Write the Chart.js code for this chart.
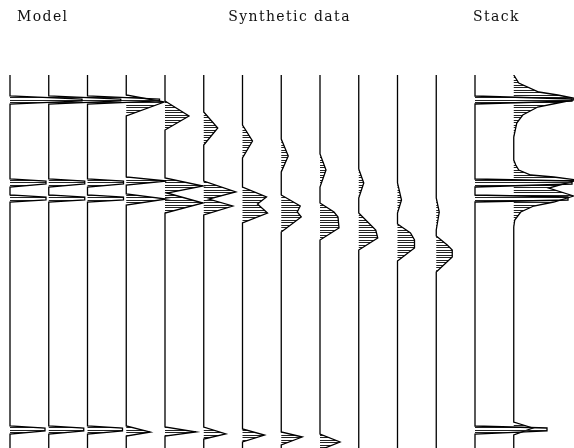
<!DOCTYPE html>
<html lang="en">

<head>
    <meta charset="UTF-8">
    <title>Model / Synthetic data / Stack</title>
    <script src="https://cdn.jsdelivr.net/npm/chart.js"></script>
    <style>
        body { margin: 0; background: #fff; }
    </style>
</head>

<body>
    <canvas id="wiggleChart" width="574" height="448"></canvas>

    <script>
        // panel titles
        var panelNames = ['Model', 'Synthetic data', 'Stack'];

        // each trace: [time sample, amplitude] knots
        var modelTrace = [[0, 0], [21, 0], [24, 72], [26, 72], [29, 0], [104, 0], [106, 36], [109, 36], [112, 0],
            [120, 0], [122, 36], [125, 36], [127, 0], [351, 0], [353, 35], [356, 35], [359, 0], [380, 0]];

        var synth0 = [[0, 0], [20, 0], [27, 38], [41, 0], [102, 0], [106, 40], [110, 0], [119, 0], [124, 40], [130, 0],
            [351, 0], [357, 24], [361, 0], [380, 0]];
        var synth1 = [[0, 0], [26, 0], [41, 24], [55, 0], [103, 0], [111, 38], [118, 2], [128, 38], [138, 0],
            [352, 0], [357, 31], [361, 0], [380, 0]];
        var synth2 = [[0, 0], [37, 0], [53, 14], [70, 0], [106, 0], [117, 32], [124, 5], [131, 29], [140, 0],
            [352, 0], [359, 22], [364, 0], [380, 0]];
        var synth3 = [[0, 0], [50, 0], [66, 10], [83, 0], [112, 0], [122, 24], [129, 15], [138, 25], [148, 0],
            [354, 0], [360, 22], [367, 0], [380, 0]];
        var synth4 = [[0, 0], [64, 0], [81, 7], [97, 0], [120, 0], [131, 19], [137, 16], [142, 20], [157, 0],
            [357, 0], [362, 21], [370, 0], [380, 0]];
        var synth5 = [[0, 0], [79, 0], [95, 6], [112, 0], [128, 0], [137, 14], [142, 18], [153, 19], [165, 0],
            [359, 0], [367, 20], [375, 0], [380, 0]];
        var synth6 = [[0, 0], [94, 0], [108, 5], [123, 0], [138, 0], [155, 17], [163, 19], [175, 0], [380, 0]];
        var synth7 = [[0, 0], [108, 0], [125, 4], [138, 0], [149, 0], [158, 13], [165, 17], [173, 17], [186, 0], [380, 0]];
        var synth8 = [[0, 0], [123, 0], [137, 3], [155, 0], [161, 0], [170, 11], [175, 16], [182, 16], [197, 0], [380, 0]];

        var stackTrace = [[0, 0], [21, 0], [24, 97], [26, 97], [29, 0], [104, 0], [106, 97], [109, 97], [112, 0],
            [120, 0], [122, 93], [125, 93], [127, 0], [351, 0], [353, 72], [356, 72], [359, 0], [380, 0]];
        var stackEnvelope = [[0, 0], [8, 5], [17, 25], [20, 44], [24, 64], [28, 44], [32, 24], [40, 9], [48, 3], [62, 0],
            [85, 0], [90, 2], [95, 5], [100, 17], [102, 40], [105, 64], [113, 35], [121, 60], [127, 40], [131, 20],
            [137, 7], [145, 1], [152, 0], [347, 0], [353, 19], [360, 0], [380, 0]];

        var traces = [modelTrace, modelTrace, modelTrace,
            synth0, synth1, synth2, synth3, synth4, synth5, synth6, synth7, synth8,
            stackTrace, stackEnvelope];

        var gain = 1 / 38.75; // amplitude -> trace spacing

        // horizontal line hatching for the filled lobes
        var hatch = document.createElement('canvas');
        hatch.width = 4;
        hatch.height = 5;
        var hctx = hatch.getContext('2d');
        hctx.fillStyle = '#222';
        hctx.fillRect(0, 0, 4, 1);
        hctx.fillRect(0, 2, 4, 1);

        var canvas = document.getElementById('wiggleChart');
        var ctx = canvas.getContext('2d');
        var hatchPattern = ctx.createPattern(hatch, 'repeat');

        var datasets = traces.map(function (knots, i) {
            return {
                data: knots.map(function (k) { return { x: i + k[1] * gain, y: k[0] }; }),
                borderColor: '#000',
                borderWidth: 1.3,
                pointRadius: 0,
                tension: 0,
                fill: 'shape',
                backgroundColor: hatchPattern
            };
        });

        var panelLabels = {
            id: 'panelLabels',
            afterDraw: function (chart) {
                var c = chart.ctx;
                var xs = chart.scales.x;
                var at = [0.18, 5.63, 11.95];
                c.save();
                c.font = '14px "DejaVu Serif"';
                c.letterSpacing = '1.4px';
                c.fillStyle = '#111';
                c.textAlign = 'left';
                c.textBaseline = 'alphabetic';
                panelNames.forEach(function (name, i) {
                    c.fillText(name, xs.getPixelForValue(at[i]), 21);
                });
                c.restore();
            }
        };

        new Chart(ctx, {
            type: 'line',
            data: { datasets: datasets },
            options: {
                responsive: false,
                animation: false,
                devicePixelRatio: 1,
                layout: { padding: { top: 75, left: 0, right: 0, bottom: 0 } },
                plugins: {
                    legend: { display: false },
                    tooltip: { enabled: false }
                },
                scales: {
                    x: { type: 'linear', display: false, min: -10 / 38.75, max: 564 / 38.75 },
                    y: { type: 'linear', display: false, reverse: true, min: 0, max: 373 }
                }
            },
            plugins: [panelLabels]
        });
    </script>
</body>

</html>
